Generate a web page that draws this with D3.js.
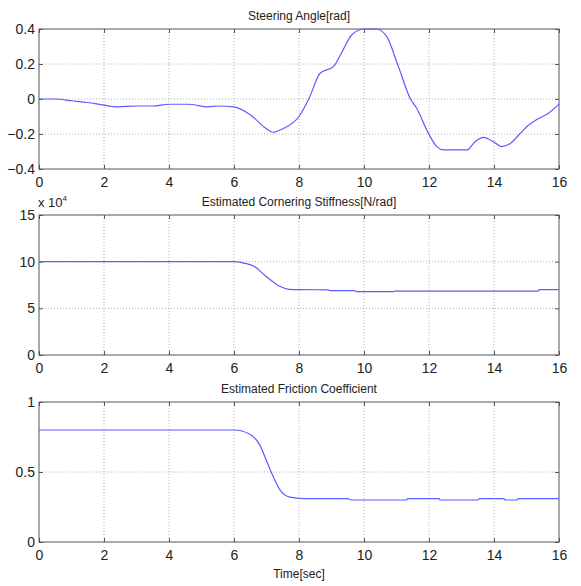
<!DOCTYPE html>
<html>
<head>
<meta charset="utf-8">
<script src="https://cdnjs.cloudflare.com/ajax/libs/d3/7.8.5/d3.min.js"></script>
<style>
  body { margin: 0; background: #fff; }
  svg { font-family: "Liberation Sans", Arial, sans-serif; }
</style>
</head>
<body>
<div id="chart"></div>
<script>
// time axis ticks shared by all panels
const timeTicks = [0, 2, 4, 6, 8, 10, 12, 14, 16];

// steering angle [rad]
const steerT = [0, 0.5, 1, 1.5, 2, 2.4, 3, 3.5, 4, 4.6, 5.2, 5.5, 6, 6.5, 7, 7.2, 7.5, 8, 8.3, 8.65, 9.06, 9.3, 9.62, 10.0, 10.38, 10.7, 11.06, 11.42, 11.62, 11.98, 12.24, 12.45, 13.17, 13.42, 13.68, 13.98, 14.24, 14.5, 14.76, 15.07, 15.33, 15.64, 16];
const steerV = [0, 0, -0.01, -0.02, -0.035, -0.045, -0.04, -0.04, -0.03, -0.03, -0.045, -0.04, -0.045, -0.09, -0.17, -0.19, -0.17, -0.1, 0.0, 0.147, 0.185, 0.26, 0.366, 0.4, 0.4, 0.356, 0.185, 0.004, -0.053, -0.196, -0.272, -0.291, -0.291, -0.244, -0.219, -0.244, -0.272, -0.254, -0.206, -0.149, -0.116, -0.086, -0.029];
const steerTicks = [-0.4, -0.2, 0, 0.2, 0.4];

// cornering stiffness [N/rad], in units of 1e4
const stiffT = [0, 6, 6.3, 6.6, 7.0, 7.39, 7.7, 8.0, 8.9, 8.95, 9.7, 9.77, 10.9, 10.95, 15.35, 15.4, 16];
const stiffV = [10, 10, 9.85, 9.54, 8.39, 7.39, 7.04, 7.0, 6.98, 6.9, 6.9, 6.8, 6.8, 6.85, 6.85, 7.0, 7.0];
const stiffTicks = [0, 5, 10, 15];

// friction coefficient
const fricT = [0, 6, 6.49, 6.8, 7.0, 7.22, 7.42, 7.72, 8.13, 9.5, 9.6, 11.3, 11.35, 12.3, 12.35, 13.5, 13.55, 14.3, 14.35, 14.7, 14.75, 16];
const fricV = [0.8, 0.8, 0.77, 0.69, 0.58, 0.46, 0.37, 0.32, 0.31, 0.31, 0.30, 0.30, 0.31, 0.31, 0.30, 0.30, 0.31, 0.31, 0.30, 0.30, 0.31, 0.31];
const fricTicks = [0, 0.5, 1];

const panels = [
  { title: "Steering Angle[rad]", t: steerT, v: steerV, domain: [-0.4, 0.4], ticks: steerTicks, top: 29 },
  { title: "Estimated Cornering Stiffness[N/rad]", t: stiffT, v: stiffV, domain: [0, 15], ticks: stiffTicks, top: 215, exp: true },
  { title: "Estimated Friction Coefficient", t: fricT, v: fricV, domain: [0, 1], ticks: fricTicks, top: 402 }
];

const W = 581, H = 586;
const left = 39, right = 559, ph = 140;
const tickFont = "'Liberation Sans Narrow', 'Arial Narrow', 'Liberation Sans', sans-serif";

const svg = d3.select("#chart").append("svg")
  .attr("width", W)
  .attr("height", H);

const x = d3.scaleLinear().domain([0, 16]).range([left, right]);

panels.forEach(p => {
  const y = d3.scaleLinear().domain(p.domain).range([p.top + ph, p.top]);
  const g = svg.append("g");

  // dotted grid
  g.selectAll(".vg").data(timeTicks.slice(1, -1)).enter().append("line")
    .attr("x1", d => x(d)).attr("x2", d => x(d))
    .attr("y1", p.top).attr("y2", p.top + ph)
    .attr("stroke", "#9a9a9a").attr("stroke-width", 0.8)
    .attr("stroke-dasharray", "1,2");
  g.selectAll(".hg").data(p.ticks.slice(1, -1)).enter().append("line")
    .attr("x1", left).attr("x2", right)
    .attr("y1", d => y(d)).attr("y2", d => y(d))
    .attr("stroke", "#9a9a9a").attr("stroke-width", 0.8)
    .attr("stroke-dasharray", "1,2");

  // inward ticks on all four sides
  const xb = d3.axisBottom(x).tickValues(timeTicks).tickSize(-4).tickPadding(8).tickFormat(d3.format("d"));
  const xt = d3.axisTop(x).tickValues(timeTicks).tickSize(-4).tickFormat("");
  const yl = d3.axisLeft(y).tickValues(p.ticks).tickSize(-4).tickPadding(4).tickFormat(d => d3.format("")(d));
  const yr = d3.axisRight(y).tickValues(p.ticks).tickSize(-4).tickFormat("");

  [[xb, `translate(0,${p.top + ph})`], [xt, `translate(0,${p.top})`],
   [yl, `translate(${left},0)`], [yr, `translate(${right},0)`]].forEach(([ax, tr]) => {
    const a = g.append("g").attr("transform", tr).call(ax);
    a.select(".domain").remove();
    a.selectAll(".tick line").attr("stroke", "#555");
    a.selectAll(".tick text").attr("fill", "#222").style("font-size", "14px")
      .style("font-family", tickFont);
  });

  // frame
  g.append("rect")
    .attr("x", left).attr("y", p.top)
    .attr("width", right - left).attr("height", ph)
    .attr("fill", "none").attr("stroke", "#555").attr("stroke-width", 1);

  // series
  const data = p.t.map((t, i) => [t, p.v[i]]);
  g.append("path")
    .datum(data)
    .attr("fill", "none")
    .attr("stroke", "#5b5bff")
    .attr("stroke-width", 1.2)
    .attr("d", d3.line().x(d => x(d[0])).y(d => y(d[1])).curve(d3.curveMonotoneX));

  // title
  g.append("text")
    .attr("x", (left + right) / 2)
    .attr("y", p.top - 9)
    .attr("text-anchor", "middle")
    .attr("fill", "#222")
    .style("font-size", "12px")
    .text(p.title);

  if (p.exp) {
    const e = g.append("text")
      .attr("x", 38).attr("y", p.top - 8)
      .attr("fill", "#222")
      .style("font-size", "13px")
      .style("font-family", tickFont)
      .text("x 10");
    e.append("tspan").attr("dy", -6).style("font-size", "8px").text("4");
  }
});

svg.append("text")
  .attr("x", (left + right) / 2)
  .attr("y", 578)
  .attr("text-anchor", "middle")
  .attr("fill", "#222")
  .style("font-size", "12px")
  .text("Time[sec]");
</script>
</body>
</html>
